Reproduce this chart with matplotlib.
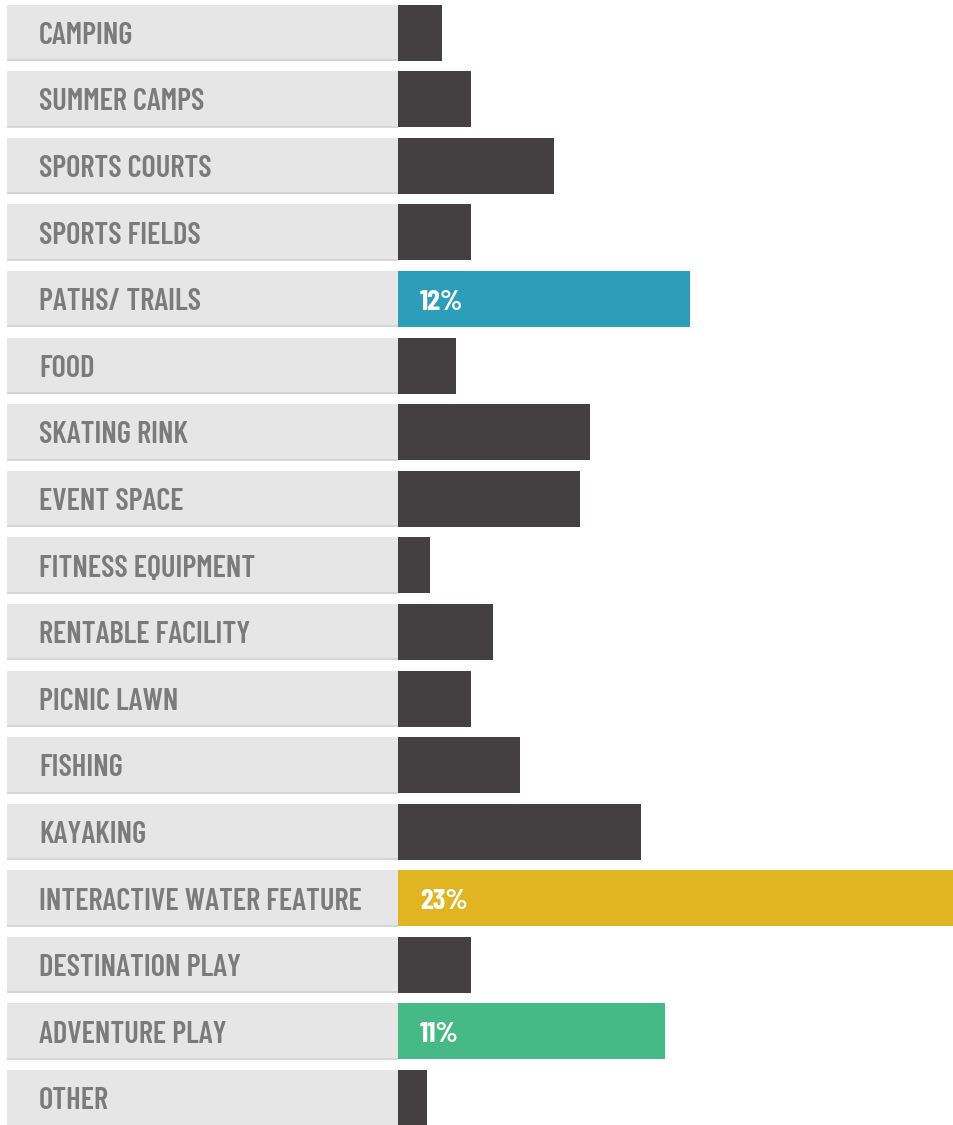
import matplotlib
matplotlib.use("Agg")
import matplotlib.pyplot as plt

categories = [
    "CAMPING", "SUMMER CAMPS", "SPORTS COURTS", "SPORTS FIELDS", "PATHS/ TRAILS",
    "FOOD", "SKATING RINK", "EVENT SPACE", "FITNESS EQUIPMENT", "RENTABLE FACILITY",
    "PICNIC LAWN", "FISHING", "KAYAKING", "INTERACTIVE WATER FEATURE",
    "DESTINATION PLAY", "ADVENTURE PLAY", "OTHER",
]
values = [1.8, 3.0, 6.4, 3.0, 12, 2.4, 7.9, 7.5, 1.3, 3.9, 3.0, 5.0, 10.0, 23, 3.0, 11, 1.2]
highlight_colors = {"PATHS/ TRAILS": "#2c9eb9", "INTERACTIVE WATER FEATURE": "#e1b522",
                    "ADVENTURE PLAY": "#46ba86"}
shown_labels = {"PATHS/ TRAILS": "12%", "INTERACTIVE WATER FEATURE": "23%",
                "ADVENTURE PLAY": "11%"}

DARK = "#444041"
PANEL = "#e6e6e6"
TEXT_GREY = "#7b7b7b"

W, H, DPI = 954, 1125, 100
px_per_unit = 24.3       # horizontal pixels per percentage point
zero_px = 398            # where bars start
row_px = 66.6            # vertical pitch of rows
first_center_px = 32.5
bar_h = 56 / row_px

fig = plt.figure(figsize=(W / DPI, H / DPI), dpi=DPI)
ax = fig.add_axes([0, 0, 1, 1])
ax.set_xlim(-zero_px / px_per_unit, (W - zero_px) / px_per_unit)
ax.set_ylim((H - first_center_px) / row_px, -first_center_px / row_px)
ax.axis("off")

panel_left = -(zero_px - 7) / px_per_unit
ys = list(range(len(categories)))

# grey label panels
ax.barh(ys, [-panel_left] * len(ys), left=panel_left, height=bar_h,
        color=PANEL, edgecolor="none", zorder=1)
for y in ys:
    ax.plot([panel_left, 0], [y + bar_h / 2 - 0.008] * 2, color="#d2d2d2",
            lw=1.2, zorder=2, solid_capstyle="butt")

# value bars
colors = [highlight_colors.get(c, DARK) for c in categories]
ax.barh(ys, values, left=0, height=bar_h, color=colors, edgecolor="none", zorder=3)

font = ["Barlow Condensed", "DejaVu Sans"]
for y, cat, v in zip(ys, categories, values):
    ax.text(panel_left + 32 / px_per_unit, y + 0.05, cat, ha="left", va="center",
            fontsize=22, fontweight="semibold", color=TEXT_GREY, family=font, zorder=4)
    if cat in shown_labels:
        ax.text(22 / px_per_unit, y + 0.05, shown_labels[cat], ha="left", va="center",
                fontsize=21, fontweight="bold", color="white", family=font, zorder=4)

fig.savefig("out.png", dpi=DPI, facecolor="white")
